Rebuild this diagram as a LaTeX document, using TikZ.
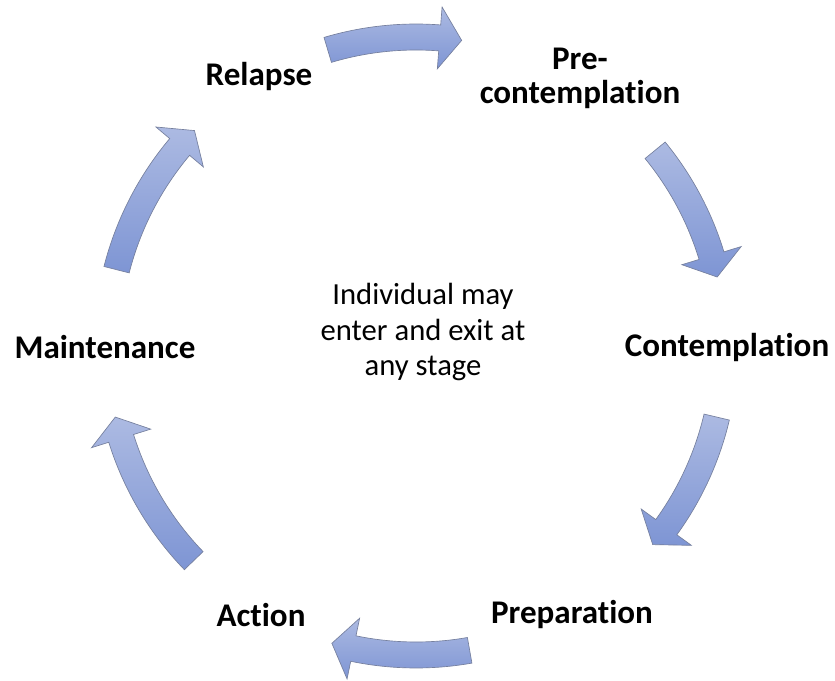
\documentclass[tikz,border=0pt]{standalone}
\usepackage{fontspec}
\setmainfont{Carlito}[Ligatures=NoCommon]
\usepackage{tikz}

\definecolor{arrowtop}{RGB}{172,186,226}
\definecolor{arrowbottom}{RGB}{126,149,212}
\definecolor{arrowline}{RGB}{118,128,158}

% curved block arrow on the ring, from tail angle #1 to tip angle #2
\newcommand{\ringarrow}[2]{%
  \pgfmathsetmacro{\headang}{#2+4.1}%
  \path[stagearrow] (#1:322) arc[start angle=#1, end angle=\headang, radius=322]
    -- (\headang:340) -- (#2:309) -- (\headang:278) -- (\headang:296)
    arc[start angle=\headang, end angle=#1, radius=296] -- cycle;}

\begin{document}
\begin{tikzpicture}[
    x=0.75pt, y=0.75pt,
    stage/.style={font=\bfseries\fontsize{24.8}{25.5}\selectfont, align=center, inner sep=0pt},
    note/.style={font=\fontsize{23}{26.5}\selectfont, align=center, inner sep=0pt},
    stagearrow/.style={draw=arrowline, line width=0.5pt, top color=arrowtop, bottom color=arrowbottom}
]
\useasboundingbox (0,0) rectangle (835,681);

% Define stages
\coordinate (centre) at (416,335);
\node[stage] (relapse) at (259,604) {Relapse};
\node[stage] (precontemplation) at (580,603) {Pre-\\contemplation};
\node[stage] (contemplation) at (727,333) {Contemplation};
\node[stage] (preparation) at (572,66) {Preparation};
\node[stage] (action) at (261,66) {Action};
\node[stage] (maintenance) at (105,334) {Maintenance};
\node[note] (entry) at (423,349) {Individual may\\enter and exit at\\any stage};

% Arrows between the stages
\begin{scope}[shift={(centre)}]
\ringarrow{106.6}{81.5}
\ringarrow{39.3}{12.9}
\ringarrow{-13.3}{-40}
\ringarrow{-80}{-105.8}
\ringarrow{-136}{-166.7}
\ringarrow{165.7}{135.8}
\end{scope}

\end{tikzpicture}
\end{document}
